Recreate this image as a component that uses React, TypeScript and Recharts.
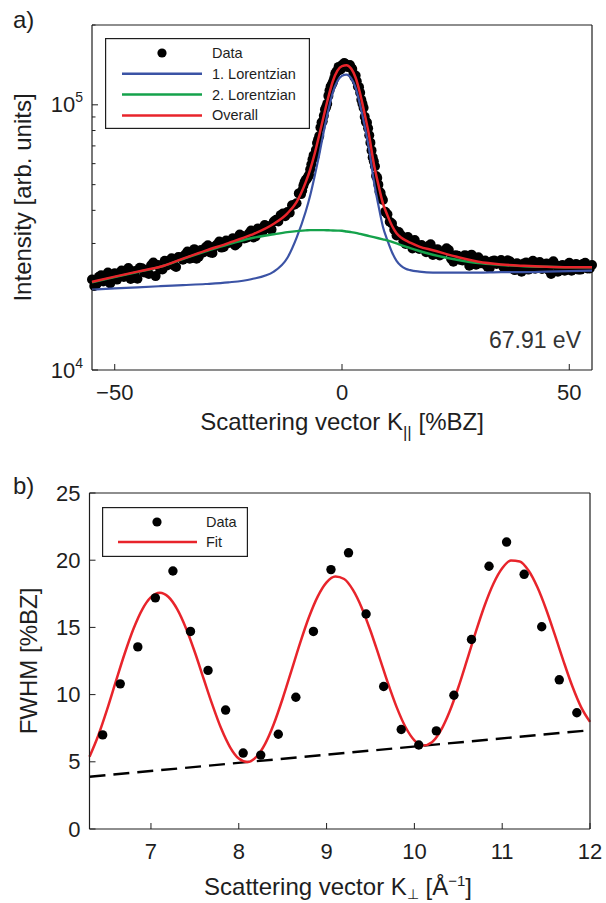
import React from "react";
import { ComposedChart, Line, Scatter, XAxis, YAxis, Legend } from "recharts";

const FONT = "'Liberation Sans', Arial, Helvetica, sans-serif";
const INK = "#1e1e1e";
const BLUE = "#3b53a5";
const GREEN = "#14a24b";
const RED = "#e8242b";

// ---- panel a) intensity profile at 67.91 eV ----
const dataK = [
  -55, -54, -53, -52, -51, -50, -49, -48, -47, -46, -45, -44, -43, -42, -41,
  -40, -39, -38, -37, -36, -35, -34, -33, -32, -31, -30, -29, -28, -27, -26,
  -25, -24, -23, -22, -21, -20, -19, -18, -17, -16, -15, -14, -13,
  -12, -11.5, -11, -10.5, -10, -9.5, -9, -8.5, -8, -7.5, -7, -6.5, -6, -5.5,
  -5, -4.5, -4, -3.5, -3, -2.5, -2, -1.5, -1, -0.5, 0, 0.5, 1, 1.5, 2, 2.5,
  3, 3.5, 4, 4.5, 5, 5.5, 6, 6.5, 7, 7.5, 8, 8.5, 9, 9.5, 10, 10.5, 11, 11.5,
  12,
  13, 14, 15, 16, 17, 18, 19, 20, 21, 22, 23, 24, 25, 26, 27, 28, 29, 30, 31,
  32, 33, 34, 35, 36, 37, 38, 39, 40, 41, 42, 43, 44, 45, 46, 47, 48, 49, 50,
  51, 52, 53, 54, 55,
  // in-between samples
  -54.5, -53.5, -52.5, -51.5, -50.5, -49.5, -48.5, -47.5, -46.5, -45.5, -44.5,
  -43.5, -42.5, -41.5, -40.5, -39.5, -38.5, -37.5, -36.5, -35.5, -34.5, -33.5,
  -32.5, -31.5, -30.5, -29.5, -28.5, -27.5, -26.5, -25.5, -24.5, -23.5, -22.5,
  -21.5, -20.5, -19.5, -18.5, -17.5, -16.5, -15.5, -14.5, -13.5, -12.5,
  12.5, 13.5, 14.5, 15.5, 16.5, 17.5, 18.5, 19.5, 20.5, 21.5, 22.5, 23.5, 24.5,
  25.5, 26.5, 27.5, 28.5, 29.5, 30.5, 31.5, 32.5, 33.5, 34.5, 35.5, 36.5, 37.5,
  38.5, 39.5, 40.5, 41.5, 42.5, 43.5, 44.5, 45.5, 46.5, 47.5, 48.5, 49.5, 50.5,
  51.5, 52.5, 53.5, 54.5,
  -8.75, -8.25, -7.75, -7.25, -6.75, -6.25, -5.75, -5.25, -4.75, -4.25, -3.75,
  -3.25, -2.75, -2.25, -1.75, -1.25, -0.75, -0.25, 0.25, 0.75, 1.25, 1.75, 2.25,
  2.75, 3.25, 3.75, 4.25, 4.75, 5.25, 5.75, 6.25, 6.75, 7.25, 7.75, 8.25, 8.75,
];
const dataI = [
  21930, 21050, 22780, 21880, 21190, 23180, 22930, 22440, 24260, 22370, 22090,
  24170, 23900, 24820, 22600, 24010, 25840, 25450, 24780, 26680, 26040, 27980,
  26460, 26300, 28360, 29050, 27740, 29240, 30520, 29110, 30100, 31420, 30020,
  32030, 31530, 33590, 31910, 33840, 35230, 34200, 36310, 36330, 38930,
  39390, 39200, 41820, 42000, 42570, 46350, 46060, 49490, 52020, 53460, 57000,
  62220, 64190, 71710, 76230, 85680, 91000, 98010, 108070, 117300, 121770,
  130800, 134500, 135240, 141400, 143820, 139590, 139500, 138370, 129850,
  129030, 117320, 111100, 101000, 90160, 85680, 76760, 67320, 61200, 53900,
  50000, 46460, 43780, 39490, 38680, 36230, 35700, 33800, 32140,
  32230, 29880, 30500, 30890, 28620, 28800, 29360, 27170, 28560, 27420, 28770,
  26290, 27070, 26020, 27090, 24750, 26320, 26620, 25200, 24540, 25700, 25100,
  26000, 24450, 25650, 23810, 25000, 25190, 23910, 25830, 24350, 24060, 25240,
  23030, 24940, 24690, 23670, 25380, 24400, 23910, 25130, 24160, 24890,
  20740, 22450, 21560, 23310, 22180, 21920, 23710, 23460, 22040, 23630, 24310,
  23320, 23040, 25410, 24890, 23940, 24780, 26400, 24440, 26620, 27270, 26290,
  28560, 26770, 27720, 29540, 27630, 29730, 28940, 30800, 30600, 29500, 32430,
  31310, 32720, 31620, 34200, 33170, 34900, 33840, 36870, 38370, 38020,
  33170, 30580, 31720, 28750, 29740, 29580, 27790, 29820, 27870, 27010, 28100,
  28340, 25600, 26950, 25900, 26970, 27230, 24930, 25260, 25890, 24240, 25900,
  25300, 24480, 25930, 24100, 25280, 23480, 25420, 24880, 24110, 25560, 24270,
  23770, 25700, 23470, 24910, 24640, 23670, 25130, 23910, 25380, 24160,
  47520, 51000, 52500, 54390, 59590, 64460, 67520, 74000, 82110, 86630, 95950,
  100940, 113220, 119000, 125240, 133320, 139030, 136220, 140600, 142610,
  138900, 141170, 136350, 127110, 122600, 116590, 104450, 97470, 86240, 81600,
  72000, 63360, 58650, 53030, 47040, 44640,
];
const curveK = [
  -55, -50, -45, -40, -35, -30, -25, -20, -15, -12, -10, -8, -7, -6, -5, -4, -3,
  -2, -1, 0, 1, 2, 3, 4, 5, 6, 7, 8, 9, 10, 11, 12, 13, 14, 15, 17, 20, 25, 30,
  35, 40, 45, 50, 55,
];
const lor1 = [
  20100, 20300, 20500, 20700, 20900, 21100, 21400, 22000, 23500, 26500, 31500,
  39500, 45500, 54000, 65000, 79500, 95500, 111500, 123000, 128700, 129900,
  126000, 115800, 99600, 83000, 67300, 51600, 41900, 34700, 30800, 27800, 25800,
  24700, 24100, 23800, 23500, 23300, 23300, 23300, 23400, 23400, 23500, 23600,
  23700,
];
const lor2 = [
  21400, 22400, 23400, 24500, 26200, 28000, 29800, 31400, 32500, 33100, 33400,
  33600, 33700, 33700, 33700, 33700, 33650, 33600, 33550, 33500, 33300, 33100,
  32900, 32600, 32300, 32000, 31700, 31400, 31100, 30800, 30400, 30000, 29600,
  29200, 28800, 28100, 27200, 26100, 25300, 24900, 24600, 24500, 24400, 24400,
];
const overall = [
  21500, 22500, 23500, 24500, 26300, 28200, 30100, 32300, 35600, 39000, 43000,
  51000, 57000, 65500, 77000, 91000, 107000, 123000, 134500, 140000, 141000,
  137000, 126500, 110000, 92000, 76000, 60000, 50000, 42500, 38300, 35000,
  32800, 31600, 30800, 30200, 29200, 28300, 26800, 25600, 25000, 24700, 24500,
  24400, 24400,
];
const kTicksA = [-50, 0, 50];
const iTicks = [
  10000, 20000, 30000, 40000, 50000, 60000, 70000, 80000, 90000, 100000, 200000,
];
const iMajor = [10000, 100000];

// ---- panel b) FWHM vs perpendicular scattering vector ----
const fwhmK = [
  6.45, 6.65, 6.85, 7.05, 7.25, 7.45, 7.65, 7.85, 8.05, 8.25, 8.45, 8.65, 8.85,
  9.05, 9.25, 9.45, 9.65, 9.85, 10.05, 10.25, 10.45, 10.65, 10.85, 11.05,
  11.25, 11.45, 11.65, 11.85,
];
const fwhm = [
  7.0, 10.8, 13.55, 17.2, 19.2, 14.7, 11.8, 8.85, 5.65, 5.5, 7.05, 9.8, 14.7,
  19.3, 20.55, 16.0, 10.6, 7.4, 6.25, 7.3, 9.95, 14.1, 19.55, 21.35, 18.95,
  15.05, 11.1, 8.65,
];
const fitK = [
  6.3, 6.4, 6.5, 6.6, 6.7, 6.8, 6.9, 7.0, 7.1, 7.2, 7.3, 7.4, 7.5, 7.6, 7.7,
  7.8, 7.9, 8.0, 8.1, 8.2, 8.3, 8.4, 8.5, 8.6, 8.7, 8.8, 8.9, 9.0, 9.1, 9.2,
  9.3, 9.4, 9.5, 9.6, 9.7, 9.8, 9.9, 10.0, 10.1, 10.2, 10.3, 10.4, 10.5, 10.6,
  10.7, 10.8, 10.9, 11.0, 11.1, 11.2, 11.3, 11.4, 11.5, 11.6, 11.7, 11.8, 11.9,
  12.0,
];
const fit = [
  5.38, 6.96, 8.88, 10.98, 13.04, 14.88, 16.33, 17.25, 17.58, 17.26, 16.34,
  14.92, 13.15, 11.18, 9.23, 7.47, 6.1, 5.24, 4.98, 5.36, 6.33, 7.83, 9.71,
  11.78, 13.87, 15.77, 17.31, 18.35, 18.79, 18.6, 17.79, 16.47, 14.75, 12.81,
  10.83, 9.03, 7.57, 6.6, 6.21, 6.46, 7.32, 8.72, 10.53, 12.58, 14.68, 16.63,
  18.25, 19.4, 19.97, 19.91, 19.23, 18.0, 16.35, 14.44, 12.46, 10.6, 9.05, 7.97,
];
const baseK = [6.3, 12];
const baseW = [3.89, 7.35];
const kTicksB = [7, 8, 9, 10, 11, 12];
const wTicks = [0, 5, 10, 15, 20, 25];

const rows = (xs: number[], ys: number[]) => xs.map((k, i) => ({ k, v: ys[i] }));

const legendA = [
  { label: "Data", kind: "dot", color: "#000" },
  { label: "1. Lorentzian", kind: "line", color: BLUE },
  { label: "2. Lorentzian", kind: "line", color: GREEN },
  { label: "Overall", kind: "line", color: RED },
];
const legendB = [
  { label: "Data", kind: "dot", color: "#000" },
  { label: "Fit", kind: "line", color: RED },
];

const minus = (v: number) => (v < 0 ? "\u2212" + Math.abs(v) : String(v));

// inward MATLAB-style ticks
const leftTick = (labels: boolean, log: boolean) => (p: any) => {
  const v = p.payload.value;
  const major = !log || iMajor.includes(v);
  return (
    <g>
      <line x1={p.x} x2={p.x + (major ? 6 : 3.5)} y1={p.y} y2={p.y} stroke={INK} />
      {labels && major && (
        <text x={p.x - 9} y={p.y + 7.5} textAnchor="end" fontFamily={FONT} fontSize={22} fill={INK}>
          {log ? "10" : String(v)}
          {log && (
            <tspan dy={-10} fontSize={14}>
              {Math.round(Math.log10(v))}
            </tspan>
          )}
        </text>
      )}
    </g>
  );
};
const rightTick = (log: boolean) => (p: any) => {
  const major = !log || iMajor.includes(p.payload.value);
  return <line x1={p.x} x2={p.x - (major ? 6 : 3.5)} y1={p.y} y2={p.y} stroke={INK} />;
};
const bottomTick = (p: any) => (
  <g>
    <line x1={p.x} x2={p.x} y1={p.y} y2={p.y - 6} stroke={INK} />
    <text x={p.x} y={p.y + 30} textAnchor="middle" fontFamily={FONT} fontSize={22} fill={INK}>
      {minus(p.payload.value)}
    </text>
  </g>
);
const topTick = (p: any) => <line x1={p.x} x2={p.x} y1={p.y} y2={p.y + 6} stroke={INK} />;

const dotOf = (r: number) => (p: any) => <circle cx={p.cx} cy={p.cy} r={r} fill="#000" />;

function LegendBox({ items, w, h, dotX, x1, x2, textX, y0, pitch }: any) {
  return (
    <svg width={w} height={h} style={{ display: "block" }}>
      <rect x={0.6} y={0.6} width={w - 1.2} height={h - 1.2} fill="#fff" stroke={INK} strokeWidth={1.2} />
      {items.map((it: any, i: number) => {
        const cy = y0 + i * pitch;
        return (
          <g key={it.label}>
            {it.kind === "dot" ? (
              <circle cx={dotX} cy={cy} r={4.6} fill={it.color} />
            ) : (
              <line x1={x1} x2={x2} y1={cy} y2={cy} stroke={it.color} strokeWidth={2.5} />
            )}
            <text x={textX} y={cy + 5} fontFamily={FONT} fontSize={14.5} fill={INK}>
              {it.label}
            </text>
          </g>
        );
      })}
    </svg>
  );
}

const axisLine = { stroke: INK, strokeWidth: 1.2 };
const bare = { tickSize: 0, tickMargin: 0, interval: 0 as const, axisLine, tickLine: false };
// curves must sit above the dense data band
const onTop = { zIndex: 700 } as any;

function PanelA() {
  return (
    <ComposedChart width={606} height={450} margin={{ top: 0, right: 0, bottom: 0, left: 0 }}>
      <XAxis dataKey="k" type="number" domain={[-55, 55]} ticks={kTicksA} height={80} tick={bottomTick} {...bare} />
      <XAxis xAxisId="top" orientation="top" type="number" domain={[-55, 55]} ticks={kTicksA} height={25} tick={topTick} {...bare} />
      <YAxis dataKey="v" type="number" scale="log" domain={[10000, 200000]} allowDataOverflow ticks={iTicks} width={92} tick={leftTick(true, true)} {...bare} />
      <YAxis yAxisId="right" orientation="right" type="number" scale="log" domain={[10000, 200000]} ticks={iTicks} width={14} tick={rightTick(true)} {...bare} />
      <Scatter name="Data" data={rows(dataK, dataI)} shape={dotOf(5)} isAnimationActive={false} />
      <Line {...onTop} name="1. Lorentzian" data={rows(curveK, lor1)} dataKey="v" type="monotone" stroke={BLUE} strokeWidth={2.2} dot={false} isAnimationActive={false} />
      <Line {...onTop} name="2. Lorentzian" data={rows(curveK, lor2)} dataKey="v" type="monotone" stroke={GREEN} strokeWidth={2.4} dot={false} isAnimationActive={false} />
      <Line {...onTop} name="Overall" data={rows(curveK, overall)} dataKey="v" type="monotone" stroke={RED} strokeWidth={2.5} dot={false} isAnimationActive={false} />
      <Legend
        layout="vertical"
        align="center"
        verticalAlign="middle"
        wrapperStyle={{ left: 105, top: 38, width: 205, height: 91 }}
        content={() => (
          <LegendBox items={legendA} w={205} h={91} dotX={57} x1={17} x2={97} textX={107} y0={15} pitch={20.8} />
        )}
      />
    </ComposedChart>
  );
}

function PanelB() {
  return (
    <ComposedChart width={606} height={453} margin={{ top: 0, right: 0, bottom: 0, left: 0 }}>
      <XAxis dataKey="k" type="number" domain={[6.3, 12]} ticks={kTicksB} height={74} tick={bottomTick} {...bare} />
      <XAxis xAxisId="top" orientation="top" type="number" domain={[6.3, 12]} ticks={kTicksB} height={43} tick={topTick} {...bare} />
      <YAxis dataKey="v" type="number" domain={[0, 25]} ticks={wTicks} width={89.5} tick={leftTick(true, false)} {...bare} />
      <YAxis yAxisId="right" orientation="right" type="number" domain={[0, 25]} ticks={wTicks} width={16} tick={rightTick(false)} {...bare} />
      <Line name="Baseline" data={rows(baseK, baseW)} dataKey="v" type="linear" stroke="#000" strokeWidth={2.4} strokeDasharray="16 8" dot={false} legendType="none" isAnimationActive={false} />
      <Line name="Fit" data={rows(fitK, fit)} dataKey="v" type="monotone" stroke={RED} strokeWidth={2.5} dot={false} isAnimationActive={false} />
      <Scatter name="Data" data={rows(fwhmK, fwhm)} shape={dotOf(4.7)} isAnimationActive={false} />
      <Legend
        layout="vertical"
        align="center"
        verticalAlign="middle"
        wrapperStyle={{ left: 102, top: 57, width: 146, height: 50 }}
        content={() => (
          <LegendBox items={legendB} w={146} h={50} dotX={55} x1={16} x2={95} textX={104} y0={15} pitch={20} />
        )}
      />
    </ComposedChart>
  );
}

export default function App() {
  const t = { fontFamily: FONT, fill: INK };
  return (
    <div style={{ position: "absolute", left: 0, top: 0, width: 606, height: 903, background: "#fff" }}>
      <div style={{ position: "absolute", left: 0, top: 0 }}>
        <PanelA />
      </div>
      <div style={{ position: "absolute", left: 0, top: 450 }}>
        <PanelB />
      </div>
      <svg width={606} height={903} style={{ position: "absolute", left: 0, top: 0, pointerEvents: "none" }}>
        <text x={13} y={28} fontSize={24} {...t}>a)</text>
        <text x={13} y={494} fontSize={24} {...t}>b)</text>
        <text x={581} y={348} fontSize={23} textAnchor="end" {...t} fill="#333">67.91 eV</text>
        <text x={342} y={430} fontSize={24} textAnchor="middle" {...t}>
          Scattering vector K
          <tspan dy={8} fontSize={17}>||</tspan>
          <tspan dy={-8}>{" [%BZ]"}</tspan>
        </text>
        <text x={31} y={197.5} fontSize={24} textAnchor="middle" transform="rotate(-90 31 197.5)" {...t}>
          Intensity [arb. units]
        </text>
        <text x={338} y={895} fontSize={24} textAnchor="middle" {...t}>
          Scattering vector K
          <tspan dy={4} fontSize={14}>{"\u22A5"}</tspan>
          <tspan dy={-4}>{" [\u00C5"}</tspan>
          <tspan dy={-9} fontSize={15}>{"\u22121"}</tspan>
          <tspan dy={9}>]</tspan>
        </text>
        <text x={36.5} y={661} fontSize={24} textAnchor="middle" transform="rotate(-90 36.5 661)" {...t}>
          FWHM [%BZ]
        </text>
      </svg>
    </div>
  );
}
